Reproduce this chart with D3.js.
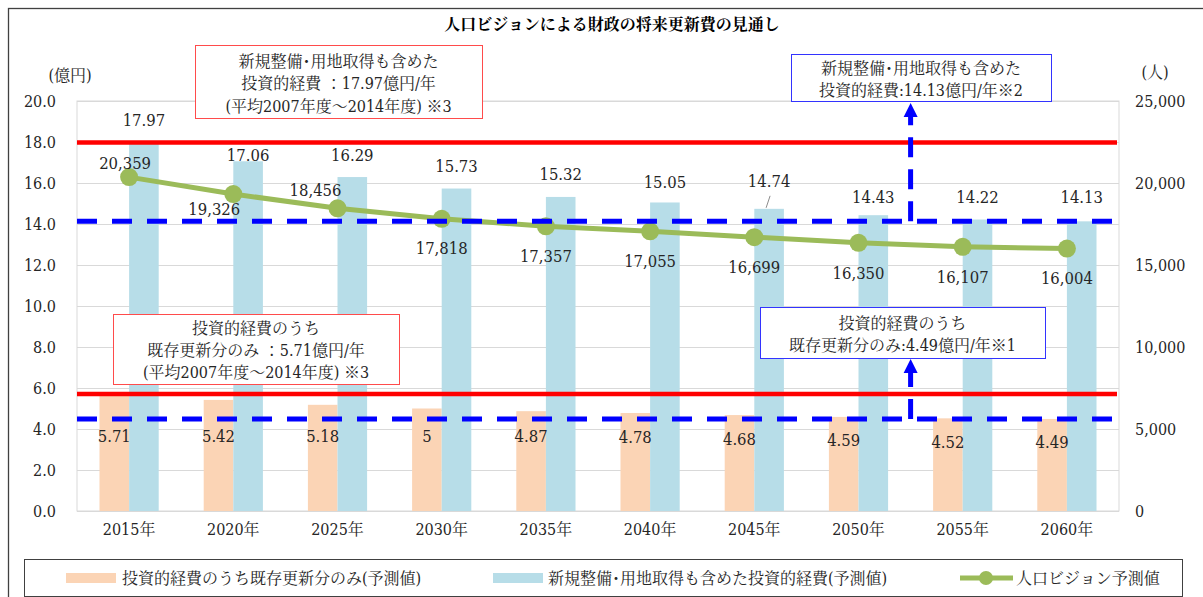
<!DOCTYPE html>
<html lang="ja">
<head>
<meta charset="utf-8">
<script src="https://cdn.jsdelivr.net/npm/d3@7"></script>
<style>
  html, body { margin: 0; padding: 0; background: #fff; }
  svg { display: block; }
  svg text { font-family: "DejaVu Serif", "Noto Serif CJK JP", serif; font-stretch: condensed; }
</style>
</head>
<body>
<svg id="chart" width="1203" height="597"></svg>
<script>
// ---- data ----
const categories = ["2015年", "2020年", "2025年", "2030年", "2035年", "2040年", "2045年", "2050年", "2055年", "2060年"];
const existingRenewal = [5.71, 5.42, 5.18, 5, 4.87, 4.78, 4.68, 4.59, 4.52, 4.49];          // 億円
const totalInvestment = [17.97, 17.06, 16.29, 15.73, 15.32, 15.05, 14.74, 14.43, 14.22, 14.13]; // 億円
const population = [20359, 19326, 18456, 17818, 17357, 17055, 16699, 16350, 16107, 16004];      // 人
const costTicks = [0, 2, 4, 6, 8, 10, 12, 14, 16, 18, 20];
const popTicks = [0, 5000, 10000, 15000, 20000, 25000];

// reference levels (億円/年)
const pastTotalAvg = 17.97;
const pastExistingAvg = 5.71;
const futureTotal = 14.13;
const futureExisting = 4.49;

const seriesNames = [
  "投資的経費のうち既存更新分のみ(予測値)",
  "新規整備･用地取得も含めた投資的経費(予測値)",
  "人口ビジョン予測値"
];

// ---- layout ----
const plot = { left: 77, right: 1119, top: 101, bottom: 511 };
const colors = {
  existing: "#FBD4B5",
  total: "#B7DDE8",
  pop: "#9BBB59",
  red: "#FF0000",
  blue: "#0000FF",
  grid: "#D9D9D9",
  text: "#262626"
};

const svg = d3.select("#chart");

function label(sel) {
  return sel.attr("fill", colors.text);
}

// outer frame
svg.append("rect").attr("x", 8.5).attr("y", 8.5).attr("width", 1210).attr("height", 620)
  .attr("fill", "none").attr("stroke", "#404040").attr("stroke-width", 1.3);

// title
svg.append("text").attr("x", 612).attr("y", 24).attr("text-anchor", "middle")
  .attr("dominant-baseline", "central").style("font-size", "16px").style("font-weight", "bold")
  .attr("fill", "#000").text("人口ビジョンによる財政の将来更新費の見通し");

// scales
const x = d3.scaleBand().domain(categories).range([plot.left, plot.right]);
const sub = d3.scaleBand().domain(["existing", "total"]).range([0, x.bandwidth()]).paddingOuter(0.76);
const y = d3.scaleLinear().domain([0, 20]).range([plot.bottom, plot.top]);
const yPop = d3.scaleLinear().domain([0, 25000]).range([plot.bottom, plot.top]);

// gridlines
svg.append("g").attr("transform", `translate(${plot.left},0)`)
  .call(d3.axisLeft(y).tickValues(costTicks).tickSize(-(plot.right - plot.left)).tickFormat(""))
  .call(g => g.select(".domain").remove())
  .call(g => g.selectAll("line").attr("stroke", colors.grid).attr("stroke-width", 1));

// plot frame
svg.append("rect").attr("x", plot.left).attr("y", plot.top)
  .attr("width", plot.right - plot.left).attr("height", plot.bottom - plot.top)
  .attr("fill", "none").attr("stroke", colors.grid).attr("stroke-width", 1);

function styleAxis(g) {
  g.attr("font-family", null).attr("font-size", null);
  g.select(".domain").remove();
  label(g.selectAll("text")).style("font-size", "16px");
}

// left axis labels
svg.append("g").attr("transform", `translate(${plot.left - 21},0)`)
  .call(d3.axisLeft(y).tickValues(costTicks).tickSize(0).tickPadding(0).tickFormat(d3.format(".1f")))
  .call(styleAxis);

// right axis labels
svg.append("g").attr("transform", `translate(${plot.right + 16},0)`)
  .call(d3.axisRight(yPop).tickValues(popTicks).tickSize(0).tickPadding(0).tickFormat(d3.format(",")))
  .call(styleAxis);

// x axis labels
svg.append("g").attr("transform", `translate(0,${plot.bottom + 13})`)
  .call(d3.axisBottom(x).tickSize(0).tickPadding(0))
  .call(styleAxis);

// unit labels
label(svg.append("text")).attr("x", 70).attr("y", 75).attr("text-anchor", "middle")
  .attr("dominant-baseline", "central").style("font-size", "16px").text("(億円)");
label(svg.append("text")).attr("x", 1155).attr("y", 72).attr("text-anchor", "middle")
  .attr("dominant-baseline", "central").style("font-size", "16px").text("(人)");

// bars
const barG = svg.append("g");
barG.selectAll("rect.existing").data(categories).join("rect").attr("class", "existing")
  .attr("x", (c) => x(c) + sub("existing")).attr("width", sub.bandwidth())
  .attr("y", (c, i) => y(existingRenewal[i])).attr("height", (c, i) => y(0) - y(existingRenewal[i]))
  .attr("fill", colors.existing);
barG.selectAll("rect.total").data(categories).join("rect").attr("class", "total")
  .attr("x", (c) => x(c) + sub("total")).attr("width", sub.bandwidth())
  .attr("y", (c, i) => y(totalInvestment[i])).attr("height", (c, i) => y(0) - y(totalInvestment[i]))
  .attr("fill", colors.total);

// population line
const cx = (c) => x(c) + x.bandwidth() / 2;
svg.append("path").datum(population)
  .attr("d", d3.line().x((d, i) => cx(categories[i])).y((d) => yPop(d)))
  .attr("fill", "none").attr("stroke", colors.pop).attr("stroke-width", 5).attr("stroke-linejoin", "round");
svg.append("g").selectAll("circle").data(population).join("circle")
  .attr("cx", (d, i) => cx(categories[i])).attr("cy", (d) => yPop(d)).attr("r", 9)
  .attr("fill", colors.pop);

// reference lines
function hLine(v, color, dashed) {
  const l = svg.append("line").attr("x1", plot.left).attr("x2", plot.right - 2)
    .attr("y1", y(v)).attr("y2", y(v)).attr("stroke", color)
    .attr("stroke-width", dashed ? 5 : 4.5);
  if (dashed) l.attr("stroke-dasharray", "20 15");
}
hLine(pastTotalAvg, colors.red, false);
hLine(pastExistingAvg, colors.red, false);
hLine(futureTotal, colors.blue, true);
hLine(futureExisting, colors.blue, true);

// dashed arrows from projected levels up to their callouts
const arrowX = (cx(categories[7]) + cx(categories[8])) / 2;
function upArrow(fromV, tipY) {
  const baseY = tipY + 14;
  svg.append("line").attr("x1", arrowX).attr("x2", arrowX)
    .attr("y1", y(fromV)).attr("y2", baseY)
    .attr("stroke", colors.blue).attr("stroke-width", 5).attr("stroke-dasharray", "20 12");
  svg.append("path")
    .attr("d", `M${arrowX - 7},${baseY} L${arrowX + 7},${baseY} L${arrowX},${tipY} Z`)
    .attr("fill", colors.blue);
}

// value labels
const fs = "16.5px";
const totalNudge = [0, 16, 0, 0, 0, 2, -5, 4, 0, -2];
label(svg.append("g").selectAll("text").data(totalInvestment).join("text"))
  .attr("x", (d, i) => x(categories[i]) + sub("total") + sub.bandwidth() / 2)
  .attr("y", (d, i) => y(d) - 22 + totalNudge[i])
  .attr("text-anchor", "middle").attr("dominant-baseline", "central").style("font-size", fs)
  .text((d) => String(d));
// leader for the 2045 label
{
  const i = 6, bx = x(categories[i]) + sub("total") + sub.bandwidth() / 2;
  svg.append("line").attr("x1", bx - 3).attr("y1", y(totalInvestment[i]) - 1)
    .attr("x2", bx + 1).attr("y2", y(totalInvestment[i]) - 13)
    .attr("stroke", "#8c8c8c").attr("stroke-width", 1);
}
label(svg.append("g").selectAll("text").data(existingRenewal).join("text"))
  .attr("x", (d, i) => x(categories[i]) + sub("existing") + sub.bandwidth() / 2)
  .attr("y", (d) => Math.max(y(d) + 24, 436))
  .attr("text-anchor", "middle").attr("dominant-baseline", "central").style("font-size", fs)
  .text((d) => String(d));

const popOffset = [[-4, -14], [-19, 15], [-22, -18], [0, 30], [0, 30], [0, 30], [0, 30], [0, 31], [0, 31], [0, 30]];
label(svg.append("g").selectAll("text").data(population).join("text"))
  .attr("x", (d, i) => cx(categories[i]) + popOffset[i][0])
  .attr("y", (d, i) => yPop(d) + popOffset[i][1])
  .attr("text-anchor", "middle").attr("dominant-baseline", "central").style("font-size", fs)
  .text((d) => d3.format(",")(d));

// callout boxes
function callout(x0, y0, w, h, stroke, lines, lineY) {
  svg.append("rect").attr("x", x0 + 0.5).attr("y", y0 + 0.5).attr("width", w).attr("height", h)
    .attr("fill", "#fff").attr("stroke", stroke).attr("stroke-width", 1);
  lines.forEach((t, k) => {
    label(svg.append("text")).attr("x", x0 + w / 2).attr("y", lineY[k])
      .attr("text-anchor", "middle").attr("dominant-baseline", "central")
      .style("font-size", "16px").text(t);
  });
}
callout(195, 45, 287, 73, "#FF4B4B",
  ["新規整備･用地取得も含めた", "投資的経費 ：" + pastTotalAvg + "億円/年", "(平均2007年度～2014年度) ※3"],
  [61, 83, 106]);
callout(113, 314, 286, 70, "#FF4B4B",
  ["投資的経費のうち", "既存更新分のみ ：" + pastExistingAvg + "億円/年", "(平均2007年度～2014年度) ※3"],
  [328, 350, 372]);
callout(791, 54, 260, 47, "#3333FF",
  ["新規整備･用地取得も含めた", "投資的経費:" + futureTotal + "億円/年※2"],
  [68, 90]);
callout(760, 307, 285, 51, "#3333FF",
  ["投資的経費のうち", "既存更新分のみ:" + futureExisting + "億円/年※1"],
  [323, 345]);

upArrow(futureTotal, 103);
upArrow(futureExisting, 359);

// legend
const lg = svg.append("g");
lg.append("rect").attr("x", 24.5).attr("y", 559.5).attr("width", 1158).attr("height", 37)
  .attr("fill", "#fff").attr("stroke", "#404040").attr("stroke-width", 1);
const legY = 578;
lg.append("rect").attr("x", 66).attr("y", legY - 5).attr("width", 50).attr("height", 10).attr("fill", colors.existing);
label(lg.append("text")).attr("x", 122).attr("y", legY).attr("dominant-baseline", "central").style("font-size", "16px").text(seriesNames[0]);
lg.append("rect").attr("x", 493).attr("y", legY - 5).attr("width", 50).attr("height", 10).attr("fill", colors.total);
label(lg.append("text")).attr("x", 548).attr("y", legY).attr("dominant-baseline", "central").style("font-size", "16px").text(seriesNames[1]);
lg.append("line").attr("x1", 960).attr("x2", 1013).attr("y1", legY).attr("y2", legY)
  .attr("stroke", colors.pop).attr("stroke-width", 5);
lg.append("circle").attr("cx", 986).attr("cy", legY).attr("r", 7).attr("fill", colors.pop);
label(lg.append("text")).attr("x", 1016).attr("y", legY).attr("dominant-baseline", "central").style("font-size", "16px").text(seriesNames[2]);
</script>
</body>
</html>
